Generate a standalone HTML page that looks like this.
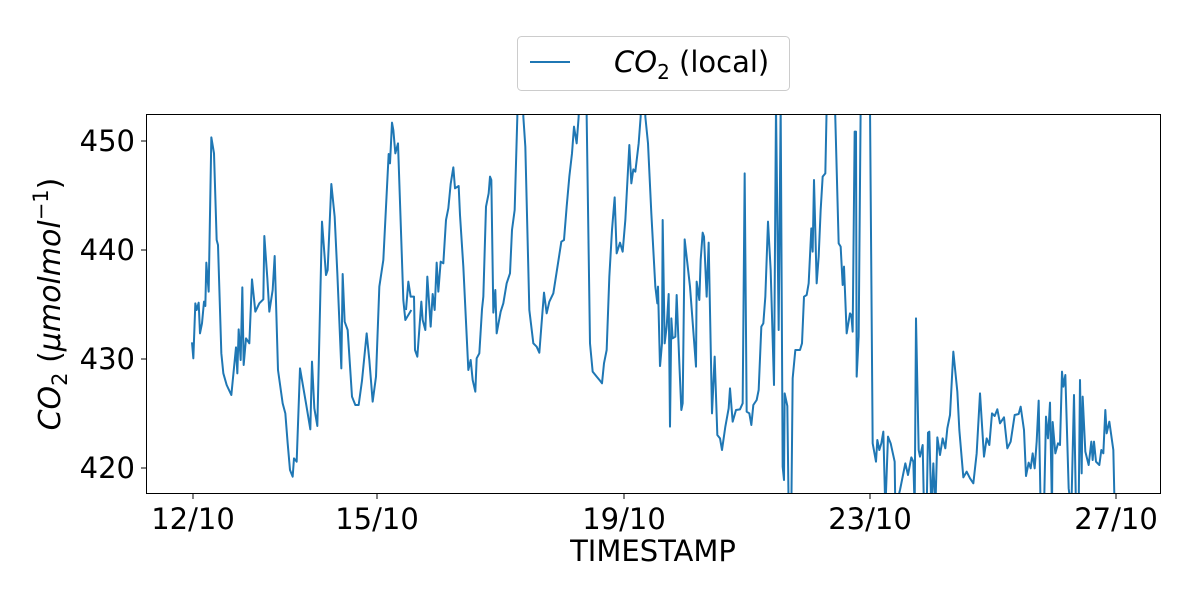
<!DOCTYPE html>
<html><head><meta charset="utf-8"><style>
body{margin:0;background:#fff}
text{font-family:"DejaVu Sans","Liberation Sans",sans-serif;fill:#000}
</style></head><body>
<svg width="1200" height="600" viewBox="0 0 1200 600" xmlns="http://www.w3.org/2000/svg">
<defs><clipPath id="c"><rect x="146" y="114" width="1015" height="380"/></clipPath></defs>
<g clip-path="url(#c)" fill="none" stroke="#1f77b4" stroke-width="2" stroke-linejoin="round">
<g transform="translate(146,110) scale(0.33333)"><polyline vector-effect="non-scaling-stroke" points="138,697 142,745 148,580 152,600 158,578 162,670 168,640 174,575 178,588 181,458 188,545 196,82 204,130 212,390 216,405 226,730 232,790 242,825 256,855 270,712 274,790 278,658 284,750 289,532 293,765 300,685 310,700 318,508 328,605 340,580 352,568 355,378 364,505 370,605 380,540 386,438 396,780 410,880 418,910 425,1000 432,1080 440,1100 444,1045 452,1055 462,775 480,880 493,958 498,755 505,895 514,948 528,335 540,495 545,480 556,222 566,320 574,490 586,775 590,492 596,635 605,660 618,860 628,885 638,885 648,812 662,670 670,750 680,875 690,800 700,530 712,450 728,132 732,160 738,38 742,60 748,130 756,100 772,570 778,630 796,600"/></g>
<g transform="translate(400,110) scale(0.33333)"><polyline vector-effect="non-scaling-stroke" points="18,600 25,515 32,560 42,560 45,720 52,740 64,575 68,630 76,660 82,500 92,650 98,552 104,600 110,458 115,545 122,455 130,460 138,330 145,295 152,222 160,172 165,235 176,228 180,315 190,470 205,780 212,750 218,810 226,845 230,745 238,730 246,598 250,560 258,290 266,250 270,200 274,210 280,608 286,540 290,670 302,605 310,580 320,520 330,490 336,360 344,300 352,20 352,-10 370,-10 370,20 376,110 388,600 400,700 410,710 418,728 424,650 432,548 440,610 448,575 460,550 474,460 484,395 492,390 500,290 508,200 516,130 522,50 530,100 536,20 536,-10 560,-10 560,20 570,700 578,785 590,800 600,812 606,820 612,760 620,720 628,500 636,360 644,262 650,430 660,398 668,425 676,330 688,105 694,220 700,178 706,185 716,100 722,20 722,-10 736,-10 736,20 744,100 754,310 766,530 772,580 774,530 780,770"/></g>
<g transform="translate(650,110) scale(0.33333)"><polyline vector-effect="non-scaling-stroke" points="30,770 36,700 38,330 44,700 50,650 56,552 60,950 64,625 68,685 76,680 80,555 88,760 94,900 98,880 104,388 120,530 138,770 140,515 148,570 152,450 158,368 162,380 170,560 176,398 186,910 194,740 202,975 210,985 216,1020 226,950 236,895 240,835 248,935 258,900 270,898 278,880 284,190 290,905 298,910 304,945 310,885 320,870 326,840 334,650 340,640 346,560 354,335 362,480 372,825 378,-10 386,660 392,-10 398,1070 402,1110 404,850 412,888 416,1200 424,1200 428,805 436,720 450,720 456,700 462,560 470,555 476,520 484,355 488,425 492,210 500,520 506,440 512,300 518,200 526,190 530,-10 555,-10 566,400 572,410 578,525 582,470 590,670 600,610 604,615 608,665 614,65 618,65 620,800 626,680 632,-10 660,-10 668,1000 678,1055 682,990 688,1020 694,1000 700,965 706,1200 714,980 722,1000 734,1055 736,1200 745,1200"/></g>
<g transform="translate(900,110) scale(0.33333)"><polyline vector-effect="non-scaling-stroke" points="-15,1200 0,1140 16,1060 24,1095 34,1042 40,1055 44,1200 48,625 56,1020 60,1040 68,1005 72,1200 80,1200 84,968 88,965 94,1200 100,1060 106,1200 112,982 120,1035 128,985 136,1015 142,955 150,915 160,725 172,845 178,960 190,1102 200,1085 210,1105 220,1120 230,1030 240,850 252,1040 260,985 268,1005 276,910 284,918 292,898 300,940 312,922 322,1015 332,995 344,915 356,912 362,890 372,960 378,1098 386,1058 392,1075 398,1030 404,1075 410,995 416,872 422,1200 432,1200 438,920 444,985 450,878 456,1200 458,936 466,1030 474,1000 480,1005 486,785 490,830 496,795 506,1135 514,1200 522,855 528,1200 536,1200 540,810 545,1090 548,860 556,1025 566,1065 574,995 578,1050 582,995 588,1055 598,1065 604,1020 610,1030 616,900 620,970 628,935 640,1020 644,1200"/></g>
</g>
<rect x="146.5" y="114.5" width="1014" height="379" fill="none" stroke="#000" stroke-width="1"/>
<g stroke="#000" stroke-width="1">
<line x1="146" y1="141" x2="141" y2="141"/><line x1="146" y1="250" x2="141" y2="250"/><line x1="146" y1="359" x2="141" y2="359"/><line x1="146" y1="468" x2="141" y2="468"/>
<line x1="193" y1="494" x2="193" y2="499"/><line x1="377" y1="494" x2="377" y2="499"/><line x1="624" y1="494" x2="624" y2="499"/><line x1="870" y1="494" x2="870" y2="499"/><line x1="1116" y1="494" x2="1116" y2="499"/>
</g>
<g font-size="29" text-anchor="end">
<text x="135" y="151">450</text><text x="135" y="260">440</text><text x="135" y="369">430</text><text x="135" y="478">420</text>
</g>
<g font-size="29" text-anchor="middle">
<text x="193" y="529">12/10</text><text x="377" y="529">15/10</text><text x="624" y="529">19/10</text><text x="870" y="529">23/10</text><text x="1116" y="529">27/10</text>
<text x="653" y="561">TIMESTAMP</text>
</g>
<text transform="translate(60,304) rotate(-90)" font-size="30" text-anchor="middle"><tspan font-style="italic">CO</tspan><tspan font-size="21" dy="7">2</tspan><tspan dy="-7"> (</tspan><tspan font-style="italic">μmolmol</tspan><tspan font-size="21" dy="-12">−1</tspan><tspan dy="12">)</tspan></text>
<rect x="517.5" y="36.5" width="272" height="54" rx="4" fill="#fff" stroke="#ccc"/>
<line x1="530" y1="62" x2="570" y2="62" stroke="#1f77b4" stroke-width="2"/>
<text x="614" y="72" font-size="29"><tspan font-style="italic">CO</tspan><tspan font-size="20" dy="7">2</tspan><tspan dy="-7"> (local)</tspan></text>
</svg>
</body></html>
